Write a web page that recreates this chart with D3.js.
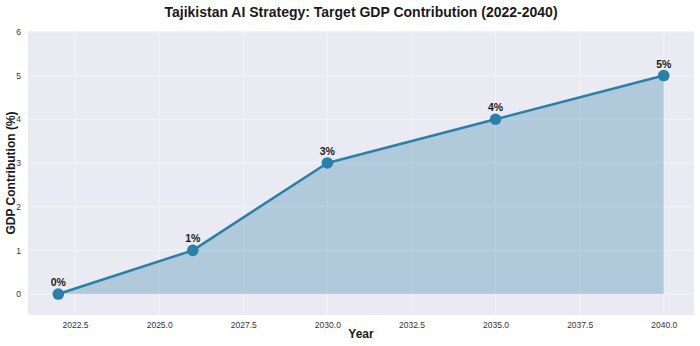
<!DOCTYPE html>
<html>
<head>
<meta charset="utf-8">
<script src="https://cdn.jsdelivr.net/npm/d3@7"></script>
<style>
  html, body { margin: 0; padding: 0; background: #ffffff; }
  svg { display: block; font-family: "Liberation Sans", Arial, sans-serif; }
</style>
</head>
<body>
<svg id="chart" width="700" height="346"></svg>
<script>
// Target share of GDP from AI, by milestone year
const years = [2022, 2026, 2030, 2035, 2040];
const gdpShare = [0, 1, 3, 4, 5];
const pointLabels = ["0%", "1%", "3%", "4%", "5%"];
const xTicks = [2022.5, 2025.0, 2027.5, 2030.0, 2032.5, 2035.0, 2037.5, 2040.0];
const yTicks = [0, 1, 2, 3, 4, 5, 6];

const titleText = "Tajikistan AI Strategy: Target GDP Contribution (2022-2040)";
const xTitle = "Year";
const yTitle = "GDP Contribution (%)";

const W = 700, H = 346;
const plot = { left: 28, right: 694, top: 31, bottom: 315 };

const svg = d3.select("#chart");

const x = d3.scaleLinear().domain([2021.1, 2040.9]).range([plot.left, plot.right]);
const y = d3.scaleLinear().domain([-0.48, 6.02]).range([plot.bottom, plot.top]);

const lineColor = "#2a80a8";

// Plot background
svg.append("rect")
  .attr("x", plot.left).attr("y", plot.top)
  .attr("width", plot.right - plot.left).attr("height", plot.bottom - plot.top)
  .attr("fill", "#eaeaf2");

// Grid lines
const grid = svg.append("g");
grid.selectAll(".gx").data(xTicks).enter().append("line")
  .attr("x1", d => x(d)).attr("x2", d => x(d))
  .attr("y1", plot.top).attr("y2", plot.bottom)
  .attr("stroke", "#f4f4f8").attr("stroke-width", 1);
grid.selectAll(".gy").data(yTicks).enter().append("line")
  .attr("x1", plot.left).attr("x2", plot.right)
  .attr("y1", d => y(d)).attr("y2", d => y(d))
  .attr("stroke", "#f4f4f8").attr("stroke-width", 1);

const pts = years.map((yr, i) => ({ x: yr, y: gdpShare[i], label: pointLabels[i] }));

// Shaded area under the line
const area = d3.area()
  .x(d => x(d.x))
  .y0(y(0))
  .y1(d => y(d.y));
svg.append("path").datum(pts)
  .attr("d", area)
  .attr("fill", "#2a80a8")
  .attr("fill-opacity", 0.3);

// Line
const line = d3.line().x(d => x(d.x)).y(d => y(d.y));
svg.append("path").datum(pts)
  .attr("d", line)
  .attr("fill", "none")
  .attr("stroke", lineColor)
  .attr("stroke-width", 2.5)
  .attr("stroke-linejoin", "round");

// Markers
svg.selectAll(".pt").data(pts).enter().append("circle")
  .attr("cx", d => x(d.x)).attr("cy", d => y(d.y))
  .attr("r", 5.8)
  .attr("fill", lineColor);

// Value labels
svg.selectAll(".vl").data(pts).enter().append("text")
  .attr("x", d => x(d.x)).attr("y", d => y(d.y) - 8)
  .attr("text-anchor", "middle")
  .attr("font-size", 10.5).attr("font-weight", "bold")
  .attr("fill", "#1a1a1a")
  .text(d => d.label);

// Axes
const xAxis = d3.axisBottom(x).tickValues(xTicks).tickFormat(d3.format(".1f")).tickSize(0).tickPadding(7);
const gx = svg.append("g").attr("transform", `translate(0,${plot.bottom})`).call(xAxis);
gx.select(".domain").remove();
gx.selectAll("text").attr("font-size", 8.5).attr("fill", "#333").attr("font-family", "Liberation Sans, Arial, sans-serif");

const yAxis = d3.axisLeft(y).tickValues(yTicks).tickFormat(d3.format("d")).tickSize(0).tickPadding(7);
const gy = svg.append("g").attr("transform", `translate(${plot.left},0)`).call(yAxis);
gy.select(".domain").remove();
gy.selectAll("text").attr("font-size", 8.5).attr("fill", "#333").attr("font-family", "Liberation Sans, Arial, sans-serif");

// Titles
svg.append("text")
  .attr("x", (plot.left + plot.right) / 2).attr("y", 17)
  .attr("text-anchor", "middle")
  .attr("font-size", 14).attr("font-weight", "bold").attr("fill", "#1a1a1a")
  .text(titleText);

svg.append("text")
  .attr("x", (plot.left + plot.right) / 2).attr("y", 338)
  .attr("text-anchor", "middle")
  .attr("font-size", 12).attr("font-weight", "bold").attr("fill", "#1a1a1a")
  .text(xTitle);

svg.append("text")
  .attr("transform", `translate(15,${(plot.top + plot.bottom) / 2}) rotate(-90)`)
  .attr("text-anchor", "middle")
  .attr("font-size", 12).attr("font-weight", "bold").attr("fill", "#1a1a1a")
  .text(yTitle);
</script>
</body>
</html>
